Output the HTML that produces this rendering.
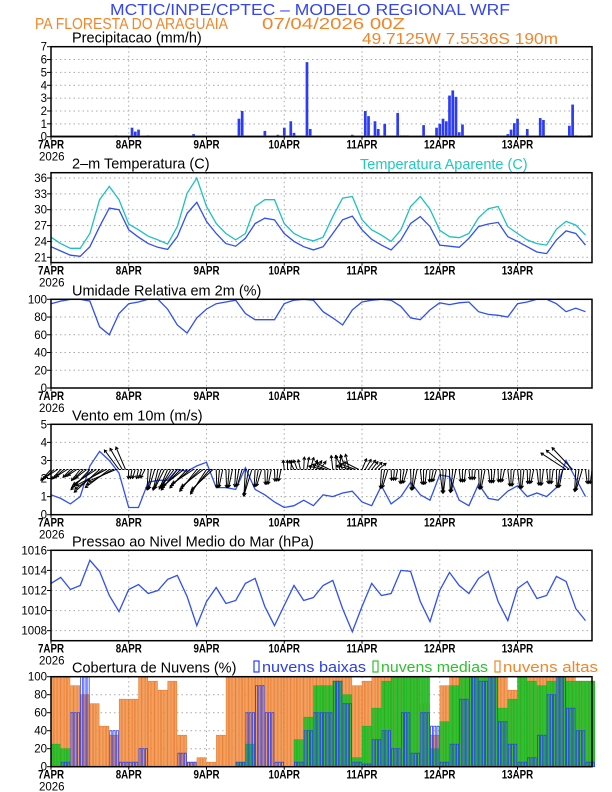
<!DOCTYPE html>
<html><head><meta charset="utf-8">
<style>
body{margin:0;background:#fff;}
svg{display:block;font-family:"Liberation Sans",sans-serif;}
</style></head>
<body>
<svg id="chart" width="612" height="792" viewBox="0 0 612 792" xmlns="http://www.w3.org/2000/svg">
<text x="310" y="15" font-size="16" fill="#3346f0" text-anchor="middle" textLength="400" lengthAdjust="spacingAndGlyphs">MCTIC/INPE/CPTEC – MODELO REGIONAL WRF</text>
<text x="35" y="29" font-size="16" fill="#f0862a" textLength="193" lengthAdjust="spacingAndGlyphs">PA FLORESTA DO ARAGUAIA</text>
<text x="262" y="29" font-size="16" fill="#f0862a" textLength="143" lengthAdjust="spacingAndGlyphs">07/04/2026 00Z</text>
<text x="362" y="44" font-size="16" fill="#f0862a" textLength="196" lengthAdjust="spacingAndGlyphs">49.7125W 7.5536S 190m</text>
<g id="plots"></g>
</svg>
<script>
const hours3 = [0,3,6,9,12,15,18,21,24,27,30,33,36,39,42,45,48,51,54,57,60,63,66,69,72,75,78,81,84,87,90,93,96,99,102,105,108,111,114,117,120,123,126,129,132,135,138,141,144,147,150,153,156,159,162,165];
const dayLabels = ["7APR","8APR","9APR","10APR","11APR","12APR","13APR"];
const precipHours = [20,25,26,27,30,44,58,59,66,70,72,74,75,79,80,93,97,98,100,101,103,107,108,109,110,115,119,120,121,122,123,124,125,126,127,138,141,142,143,144,147,151,152,160,161,162,166];
const precipValues = [0.1,0.7,0.4,0.55,0.1,0.2,1.4,2.0,0.45,0.15,0.7,1.2,0.3,5.8,0.6,0.15,2.0,1.6,1.2,0.6,1.0,1.85,0.1,0.1,0.1,0.9,0.7,1.0,1.4,1.2,3.2,3.6,3.1,0.35,0.95,0.05,0.2,0.55,1.05,1.4,0.6,1.45,1.3,0.85,2.5,0.1,0.1];
const tempValues = [23.0,22.2,21.4,21.2,23.0,26.8,30.3,30.0,26.2,24.8,23.6,22.9,22.5,24.9,29.3,31.4,27.8,25.5,23.6,23.1,24.6,27.4,28.4,28.1,25.5,24.0,23.0,22.4,23.0,25.5,28.1,28.8,26.2,24.4,23.3,22.4,24.3,27.4,28.7,26.8,23.3,23.1,22.9,24.6,26.8,27.3,27.6,24.9,24.0,23.0,22.0,21.7,24.3,26.0,25.5,23.3];
const apparentValues = [24.8,23.6,22.7,22.7,25.5,31.9,34.4,31.9,27.3,26.2,25.0,24.3,23.5,26.8,33.1,36.0,30.6,27.4,25.5,24.3,25.5,30.6,31.9,31.9,27.4,25.5,24.6,24.1,24.8,28.7,32.2,32.5,28.1,26.2,25.2,24.0,26.2,30.6,32.5,30.1,26.1,24.9,24.7,25.5,28.5,30.2,30.6,26.8,25.5,24.3,23.6,23.3,26.3,27.8,27.1,25.2];
const humidityValues = [95,98,100,100,98,69,60,84,95,97,100,100,89,71,62,79,89,95,97,99,84,77,77,77,95,99,100,99,86,79,71,88,97,99,100,99,92,79,77,88,96,94,96,97,86,83,82,80,95,97,100,100,95,86,90,86];
const windSpeed = [1.1,0.9,0.6,1.0,2.7,3.5,3.0,2.3,0.4,0.4,1.8,1.9,1.9,2.5,2.4,2.7,2.9,1.5,1.5,1.4,2.6,1.4,1.1,0.7,0.4,0.5,0.8,0.5,1.1,1.0,1.2,1.3,0.7,0.5,1.6,0.6,1.0,1.8,1.1,0.8,2.2,2.1,0.8,0.5,1.7,0.9,0.8,1.3,1.6,1.0,1.2,1.0,1.5,3.0,2.0,1.0];
const windDir = [140,140,140,135,140,145,150,240,100,110,100,110,120,135,140,135,130,95,95,100,100,100,95,95,270,250,280,300,200,270,250,200,300,315,100,95,100,95,90,100,90,95,90,90,95,90,95,90,90,95,90,90,95,220,100,90];
const pressureValues = [1012.7,1013.3,1012.1,1012.5,1015.0,1013.9,1011.5,1009.9,1012.1,1012.6,1011.7,1012.0,1013.1,1013.5,1011.4,1008.5,1010.9,1012.3,1010.7,1011.0,1012.7,1013.2,1010.4,1008.5,1010.5,1012.5,1011.0,1011.3,1012.5,1013.0,1010.2,1007.9,1010.4,1012.7,1011.5,1011.7,1014.0,1013.9,1010.9,1008.9,1012.0,1013.8,1012.5,1011.7,1013.2,1013.9,1010.9,1009.0,1012.2,1012.9,1011.2,1011.5,1013.4,1012.9,1010.2,1009.0];
const cloudHigh = [100,100,90,80,70,45,35,75,75,100,95,85,95,35,5,10,5,35,100,100,100,100,100,100,100,100,100,100,100,100,100,90,95,100,100,100,100,100,70,35,90,100,100,100,100,100,100,85,100,100,100,100,100,100,95,95];
const cloudMid = [25,20,0,0,0,0,0,0,0,0,0,0,0,0,0,0,0,0,0,5,25,0,0,0,0,30,55,90,90,95,80,10,45,65,95,100,100,100,100,20,50,90,100,100,100,100,65,75,100,95,90,95,100,95,95,95];
const cloudLow = [0,5,60,100,0,0,40,5,5,20,0,0,0,15,5,0,0,0,0,5,60,90,60,5,0,5,40,60,60,95,70,5,3,30,40,20,60,15,60,45,5,25,75,100,95,100,50,25,5,10,35,80,100,65,40,5];
const tempTicks = [21,24,27,30,33,36];
const pressTicks = [1008,1010,1012,1014,1016];

const NS='http://www.w3.org/2000/svg';
const root=document.getElementById('plots');
const X0=51, X1=592, HMAX=167;
function xs(h){return X0+h*(X1-X0)/HMAX;}
function mk(tag,attrs,parent){const e=document.createElementNS(NS,tag);for(const k in attrs)e.setAttribute(k,attrs[k]);(parent||root).appendChild(e);return e;}
function yscale(p,v){return p.bot-(v-p.min)/(p.max-p.min)*(p.bot-p.top);}

function frame(p,name,title,ticks,showYear){
  const g=mk('g',{});
  
  
  for(let d=1;d<7;d++){const l=mk('line',{x1:xs(d*24),x2:xs(d*24),y1:p.top,y2:p.bot,stroke:'#aaa','stroke-dasharray':'1.5,3'},g);
    
    }
  ticks.forEach(t=>{const y=yscale(p,t);
    if(t!==p.min&&t!==p.max){const l=mk('line',{x1:X0,x2:X1,y1:y,y2:y,stroke:'#aaa','stroke-dasharray':'1.5,3'},g);
      
      }
    mk('line',{x1:X0-4,x2:X0,y1:y,y2:y,stroke:'#000'},g);
    const tx=mk('text',{x:X0-4,y:y+4,'font-size':11.5,'text-anchor':'end'},g);tx.textContent=t;
    
    
  });
  dayLabels.forEach((d,i)=>{const x=xs(i*24);
    mk('line',{x1:x,x2:x,y1:p.bot,y2:p.bot+3,stroke:'#000'},g);
    const tx=mk('text',{x:x,y:p.bot+12,'font-size':11.5,'text-anchor':'middle','font-weight':'bold',transform:`scale(0.85,1) translate(${x/0.85-x},0)`},g);tx.textContent=d;
    
    
  });
  if(showYear){const tx=mk('text',{x:39,y:p.bot+24,'font-size':11.5},g);tx.textContent='2026';
    
    }
  const tt=mk('text',{x:72,y:p.top-4,'font-size':14.5},g);tt.textContent=title;
  
  
  return g;
}
function border(p,name){const r=mk('rect',{x:X0,y:p.top,width:X1-X0,height:p.bot-p.top,fill:'none',stroke:'#000','stroke-width':1.5});
  
  }
function line(p,vals,color,name){
  const d=vals.map((v,i)=>(i?'L':'M')+xs(hours3[i]).toFixed(1)+','+yscale(p,v).toFixed(1)).join('');
  const e=mk('path',{d:d,fill:'none',stroke:color,'stroke-width':1.3});
  
  
}

const P1={top:46.7,bot:136.7,min:0,max:7};
frame(P1,'precipitation','Precipitacao (mm/h)',[0,1,2,3,4,5,6,7],true);
const base=mk('line',{x1:X0,x2:X1,y1:P1.bot-0.8,y2:P1.bot-0.8,stroke:'#4060ff','stroke-width':1});


precipHours.forEach((h,i)=>{const y=yscale(P1,precipValues[i]);
  const b=mk('rect',{x:xs(h)-1.3,y:y,width:2.7,height:P1.bot-y,fill:'#2c3cf5'});
  
  });
border(P1,'precipitation');

const P2={top:172.7,bot:262.6,min:20,max:37};
frame(P2,'temperature','2–m Temperatura (C)',tempTicks,true);
const at=mk('text',{x:360,y:169,'font-size':14.5,fill:'#20c8c0'});at.textContent='Temperatura Aparente (C)';


line(P2,apparentValues,'#20c0c0','apparent-temp-line');
line(P2,tempValues,'#3050f0','temp-line');
border(P2,'temperature');

const P3={top:299.3,bot:388,min:0,max:100};
frame(P3,'humidity','Umidade Relativa em 2m (%)',[0,20,40,60,80,100],true);
line(P3,humidityValues,'#3050f0','humidity-line');
border(P3,'humidity');

const P4={top:424.3,bot:514.7,min:0,max:5};
frame(P4,'wind','Vento em 10m (m/s)',[0,1,2,3,4,5],true);
line(P4,windSpeed,'#3050f0','wind-speed-line');
const ay=yscale(P4,2.5);
const al=mk('line',{x1:X0+5,x2:X1-5,y1:ay,y2:ay,stroke:'#000','stroke-width':1,'stroke-dasharray':'2,1.5'});


hours3.forEach((h,i)=>{
  const L=windSpeed[i]*8+6, a=windDir[i]*Math.PI/180;
  [0,1,2].forEach(k=>{
    const aa=a+(k-1)*0.12;
    const x1=xs(h+k), x2=x1+L*Math.cos(aa), y2=ay+L*Math.sin(aa);
    const g=mk('g',{stroke:'#000','stroke-width':1,fill:'none'});
    
    
    mk('line',{x1:x1,y1:ay,x2:x2,y2:y2},g);
    const ha=3;
    mk('path',{d:`M${x2+ha*Math.cos(aa+2.6)},${y2+ha*Math.sin(aa+2.6)}L${x2},${y2}L${x2+ha*Math.cos(aa-2.6)},${y2+ha*Math.sin(aa-2.6)}`},g);
  });
});
border(P4,'wind');

const P5={top:550.3,bot:640.7,min:1007,max:1016};
frame(P5,'pressure','Pressao ao Nivel Medio do Mar (hPa)',pressTicks,true);
line(P5,pressureValues,'#3050f0','pressure-line');
border(P5,'pressure');

const P6={top:676.7,bot:766.7,min:0,max:100};
frame(P6,'clouds','Cobertura de Nuvens (%)',[0,20,40,60,80,100],true);
const hw=xs(1)-xs(0);
hours3.forEach((h,i)=>{
  [0,1,2].forEach(k=>{
    const x=xs(h+k)+0.2;
    let y=yscale(P6,cloudHigh[i]);
    const b1=mk('rect',{x:x,y:y,width:hw-0.7,height:P6.bot-y,fill:'#f5a060',stroke:'#e57a2a','stroke-width':0.6});
    
    
    y=yscale(P6,cloudMid[i]);
    const b2=mk('rect',{x:x,y:y,width:hw-0.7,height:P6.bot-y,fill:'#30c030',stroke:'#20b020','stroke-width':0.6});
    
    
    y=yscale(P6,cloudLow[i]);
    const b3=mk('rect',{x:x+0.3,y:y,width:hw-1.2,height:P6.bot-y,fill:'none',stroke:'#2a3ef0','stroke-width':0.8});
    
    
  });
});
border(P6,'clouds');
[['nuvens baixas','#2a3ef0',254,104],['nuvens medias','#30c030',373,107],['nuvens altas','#f0862a',495,95]].forEach(([t,c,x,w])=>{
  const g=mk('g',{});
  
  
  mk('rect',{x:x,y:661,width:5,height:11,fill:'none',stroke:c,'stroke-width':1.2},g);
  const tx=mk('text',{x:x+8,y:672,'font-size':14.5,fill:c,textLength:w,lengthAdjust:'spacingAndGlyphs'},g);tx.textContent=t;
});
</script>
</body></html>
